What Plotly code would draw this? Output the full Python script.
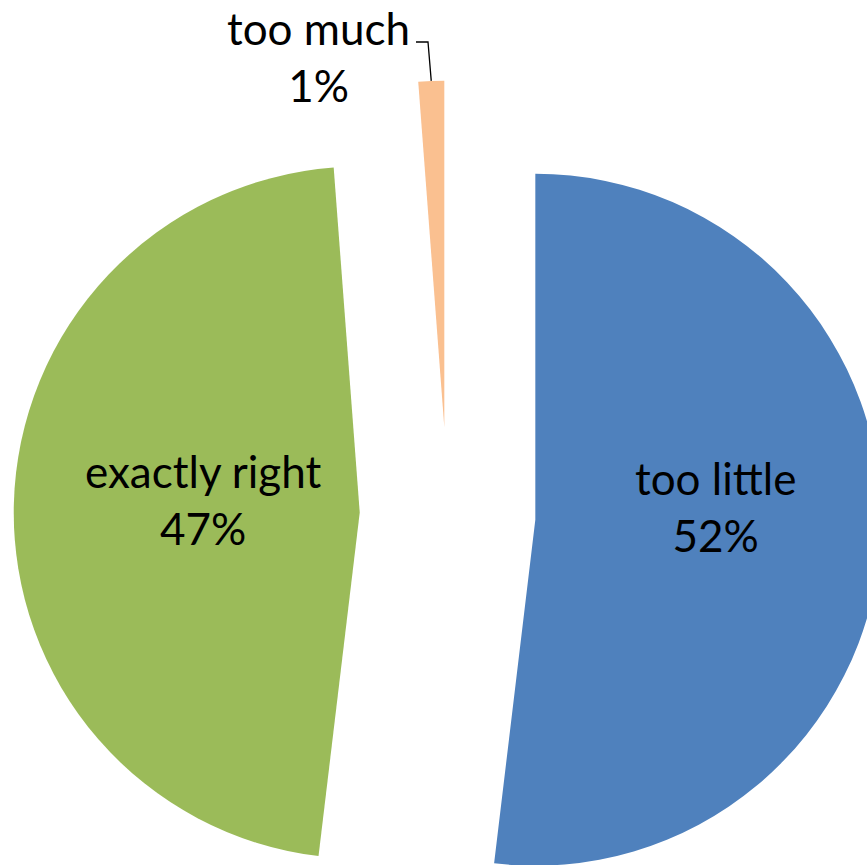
import math
import plotly.graph_objects as go

# ---- data ----
labels = ["too little", "exactly right", "too much"]
values = [51.9, 46.9, 1.2]
colors = ["#4F81BD", "#9BBB59", "#FAC090"]

# ---- layout geometry (pixels) ----
W, H = 900, 1000          # figure larger than the window so the pie bleeds off the edges
CX, CY = 447.6, 514.5     # pie centre in px (from top-left)
R = 346.0                 # slice radius in px
PULL = 0.254              # explosion as fraction of radius
B = R * (1 + PULL)        # half-size of the pie domain box

dom_x = [(CX - B) / W, (CX + B) / W]
dom_y = [1 - (CY + B) / H, 1 - (CY - B) / H]

FONT = "Lato"
FS = 44

fig = go.Figure(
    go.Pie(
        labels=labels,
        values=values,
        sort=False,
        direction="clockwise",
        rotation=0,
        pull=[PULL] * len(values),
        marker=dict(colors=colors, line=dict(width=0)),
        textinfo="none",
        hoverinfo="label+percent",
        domain=dict(x=dom_x, y=dom_y),
        showlegend=False,
    )
)


def px(x):
    return x / W


def py(y):
    return 1 - y / H


total = sum(values)
pct = [f"{v / total * 100:.0f}%" for v in values]

# label centres (px) for each slice
label_pos = [(715, 506), (203, 499), (318, 56)]
for lab, p, (lx, ly) in zip(labels, pct, label_pos):
    fig.add_annotation(
        x=px(lx), y=py(ly), xref="paper", yref="paper",
        text=f"{lab}<br>{p}",
        showarrow=False, xanchor="center", yanchor="middle", align="center",
        font=dict(family=FONT, size=FS, color="black"),
    )

# leader line for the small outside label, ending at the slice's outer edge
start_frac = sum(values[:2]) / total
mid_frac = start_frac + values[2] / total / 2
ang = 2 * math.pi * mid_frac
tip_x = CX + (1 + PULL) * R * math.sin(ang)
tip_y = CY - (1 + PULL) * R * math.cos(ang)
line_x0, line_y0 = 416, 42
elbow_x = 428
fig.add_shape(
    type="path", xref="paper", yref="paper",
    path=f"M {px(line_x0)},{py(line_y0)} L {px(elbow_x)},{py(line_y0)} L {px(tip_x)},{py(tip_y)}",
    line=dict(color="black", width=1.3),
)

fig.update_layout(
    width=W, height=H,
    margin=dict(l=0, r=0, t=0, b=0),
    paper_bgcolor="white",
    plot_bgcolor="white",
    font=dict(family=FONT),
)

fig.write_html(
    "out.html",
    config={"displayModeBar": False},
    post_script="document.body.style.margin='0';document.body.style.overflow='hidden';document.documentElement.style.overflow='hidden';",
)
